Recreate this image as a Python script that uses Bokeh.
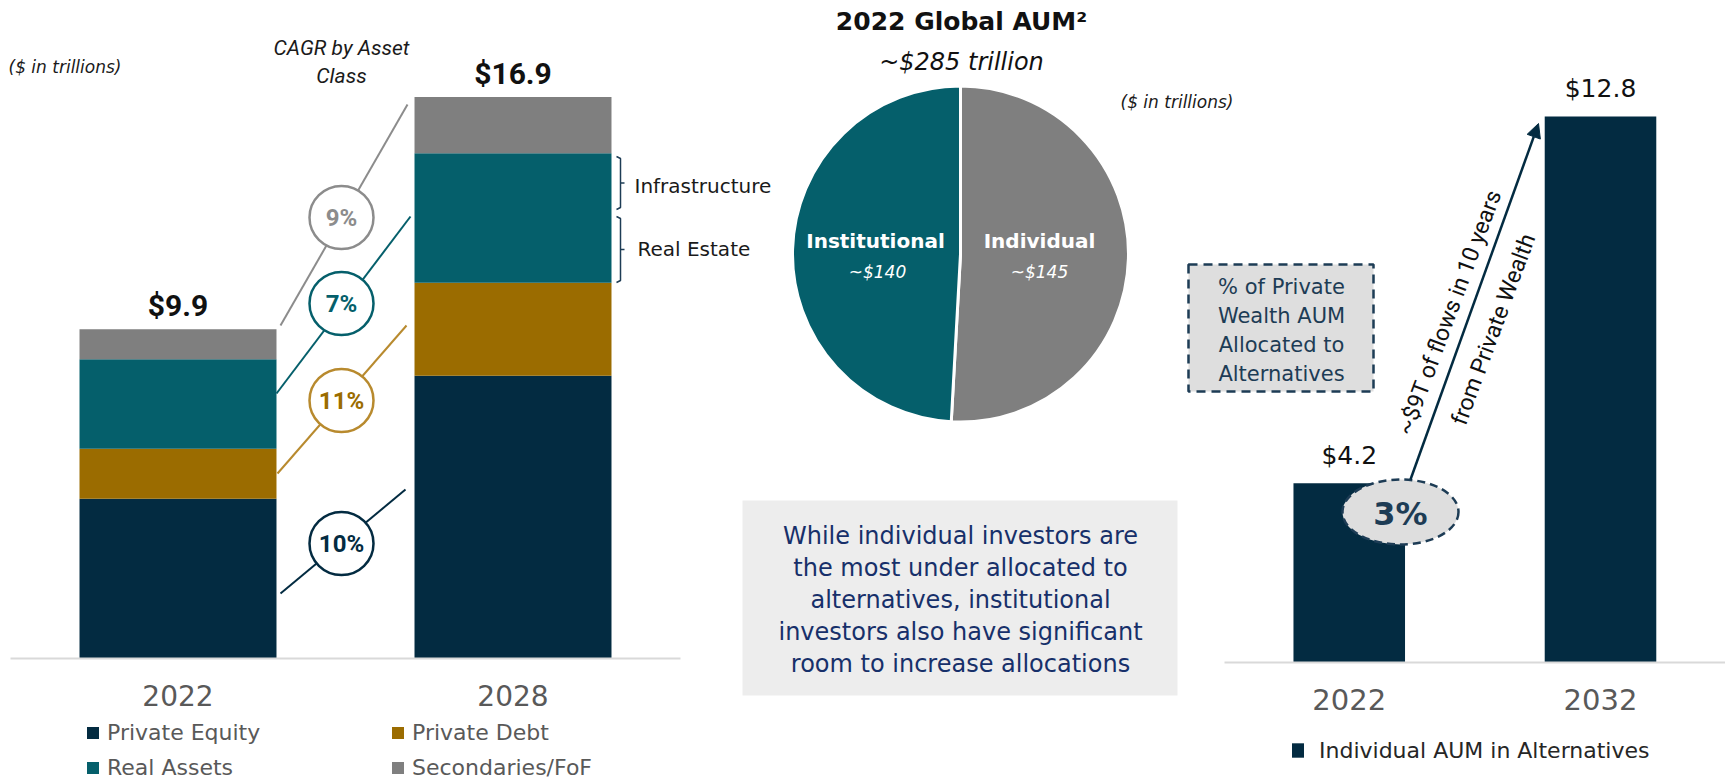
import math
from bokeh.plotting import figure
from bokeh.models import (Range1d, LinearAxis, FixedTicker, Legend, LegendItem,
                          ColumnDataSource, Arrow, NormalHead)
from bokeh.core.properties import value
from bokeh.embed import file_html
from bokeh.resources import INLINE

# ---------------- data ----------------
years_left = ["2022", "2028"]
private_equity = [4.8, 8.5]
private_debt = [1.5, 2.8]
real_assets = [2.7, 3.9]
secondaries = [0.9, 1.7]
cagr_labels = ["9%", "7%", "11%", "10%"]          # Secondaries, Real Assets, Private Debt, Private Equity

pie_labels = ["Individual", "Institutional"]
pie_values = [145, 140]
pie_value_labels = ["~$145", "~$140"]

years_right = ["2022", "2032"]
individual_alts = [4.2, 12.8]
pct_allocated = "3%"

# ---------------- style ----------------
NAVY = "#032b41"
TEAL = "#055f6b"
GOLD = "#9b6c00"
GOLD_LINE = "#b88a2e"
GRAY = "#7f7f7f"
CIRC_GRAY = "#8c8c8c"
AX_GRAY = "#595959"
DARK = "#1a1a1a"
BOX_NAVY = "#1d3c55"
BLUE_TXT = "#17306a"
COND = value("Roboto")
WIDE = value("DejaVu Sans")

W, H = 1725, 779
OX, OY = 0, 0


def py(Y):
    """screenshot y -> 'py' range value (y up)"""
    return OY + H - Y


# left chart scale: x index 0 at screenshot 177.5, 335 px per unit; y=0 at 657.5, 33.2 px/unit
LX0, LXS, LY0, LYS = 177.5, 335.0, 657.5, 33.2
# right chart scale
RX0, RXS, RY0, RYS = 1348.75, 251.25, 662.0, 42.66

p = figure(width=W, height=H, output_backend="svg", toolbar_location=None,
           x_axis_type=None, y_axis_type=None,
           x_range=Range1d((OX - LX0) / LXS, (OX + W - LX0) / LXS),
           y_range=Range1d((LY0 - (OY + H)) / LYS, (LY0 - OY) / LYS),
           min_border=0, outline_line_color=None, background_fill_color="white")
p.min_border_left = p.min_border_right = p.min_border_top = p.min_border_bottom = 0
p.extra_x_ranges = {"rx": Range1d((OX - RX0) / RXS, (OX + W - RX0) / RXS),
                    "px": Range1d(OX, OX + W)}
p.extra_y_ranges = {"ry": Range1d((RY0 - (OY + H)) / RYS, (RY0 - OY) / RYS),
                    "py": Range1d(0, H)}

PX = dict(x_range_name="px", y_range_name="py")

# ---------------- left: stacked bars ----------------
xs_left = list(range(len(years_left)))
src = ColumnDataSource(dict(x=xs_left, pe=private_equity, pd=private_debt,
                            ra=real_assets, sec=secondaries))
rs = p.vbar_stack(["pe", "pd", "ra", "sec"], x="x", width=0.588,
                  color=[NAVY, GOLD, TEAL, GRAY], line_color=None, source=src)
totals = [a + b + c + d for a, b, c, d in zip(private_equity, private_debt, real_assets, secondaries)]
p.text(x=xs_left, y=totals, text=[f"${t:.1f}" for t in totals],
       text_font=COND, text_font_style="bold", text_font_size="30px",
       text_color="#111111", text_align="center", text_baseline="bottom", y_offset=-6)

axl = LinearAxis(ticker=FixedTicker(ticks=xs_left),
                 major_label_overrides={i: y for i, y in enumerate(years_left)},
                 fixed_location=0, bounds=(-0.5, 1.5))
axl.axis_line_color = "#d9d9d9"
axl.axis_line_width = 2
axl.major_tick_line_color = None
axl.minor_tick_line_color = None
axl.major_tick_out = 0
axl.major_tick_in = 0
axl.major_label_standoff = 27
axl.major_label_text_font = "DejaVu Sans"
axl.major_label_text_font_size = "28px"
axl.major_label_text_color = AX_GRAY
p.add_layout(axl, "below")

leg_l1 = Legend(items=[LegendItem(label="Private Equity", renderers=[rs[0]]),
                       LegendItem(label="Real Assets", renderers=[rs[2]])],
                location=(85 - OX, -1.5))
leg_l2 = Legend(items=[LegendItem(label="Private Debt", renderers=[rs[1]]),
                       LegendItem(label="Secondaries/FoF", renderers=[rs[3]])],
                location=(390 - OX, -1.5))
for lg in (leg_l1, leg_l2):
    lg.border_line_color = None
    lg.background_fill_alpha = 0
    lg.padding = 0
    lg.margin = 0
    lg.spacing = 9
    lg.glyph_width = 15
    lg.glyph_height = 15
    lg.label_standoff = 7
    lg.label_height = 26
    lg.label_text_font = "DejaVu Sans"
    lg.label_text_font_size = "22px"
    lg.label_text_color = AX_GRAY
    p.add_layout(lg)

# small annotation texts (left)
p.text(x=[8], y=[py(66)], text=["($ in trillions)"], text_font=WIDE,
       text_font_style="italic", text_font_size="17px", text_color=DARK,
       text_align="left", text_baseline="middle", **PX)
p.text(x=[341, 341], y=[py(47), py(75)], text=["CAGR by Asset", "Class"], text_font=COND,
       text_font_style="italic", text_font_size="21px", text_color=DARK,
       text_align="center", text_baseline="middle", **PX)

# CAGR connectors + circles
line_cols = [CIRC_GRAY, TEAL, GOLD_LINE, NAVY]
txt_cols = [CIRC_GRAY, TEAL, GOLD, NAVY]
p.segment(x0=[280, 276, 277, 280], y0=[py(325), py(393), py(473), py(593)],
          x1=[407, 410, 406, 405], y1=[py(104), py(216), py(325), py(489)],
          line_color=line_cols, line_width=2, **PX)
cy = [217, 303, 400, 543]
p.ellipse(x=[341] * 4, y=[py(v) for v in cy], width=64, height=63,
          fill_color="white", line_color=line_cols, line_width=2.5, **PX)
p.text(x=[341] * 4, y=[py(v) for v in cy], text=cagr_labels, text_font=COND,
       text_font_style="bold", text_font_size="24px", text_color=txt_cols,
       text_align="center", text_baseline="middle", **PX)

# brackets
for (t, b) in [(156, 209), (216, 282)]:
    m = (t + b) / 2
    p.multi_line(xs=[[616, 620, 620, 616], [620, 624]],
                 ys=[[py(t), py(t + 2), py(b - 2), py(b)], [py(m), py(m)]],
                 line_color=BOX_NAVY, line_width=1.5, **PX)
p.text(x=[634, 637], y=[py(185), py(248)], text=["Infrastructure", "Real Estate"],
       text_font=WIDE, text_font_size="20px", text_color=DARK,
       text_align="left", text_baseline="middle", **PX)

# ---------------- middle: pie ----------------
tot = sum(pie_values)
starts, ends = [], []
a = math.pi / 2
for v in pie_values:
    starts.append(a)
    a = a - 2 * math.pi * v / tot
    ends.append(a)
p.wedge(x=960, y=py(253.5), radius=168, start_angle=starts, end_angle=ends,
        direction="clock", fill_color=[GRAY, TEAL], line_color="white", line_width=3, **PX)
p.text(x=[961], y=[py(21)], text=["2022 Global AUM²"], text_font=WIDE,
       text_font_style="bold", text_font_size="25px", text_color="#111111",
       text_align="center", text_baseline="middle", **PX)
p.text(x=[961], y=[py(61)], text=["~$285 trillion"], text_font=WIDE,
       text_font_style="italic", text_font_size="24px", text_color="#111111",
       text_align="center", text_baseline="middle", **PX)
p.text(x=[1120], y=[py(101)], text=["($ in trillions)"], text_font=WIDE,
       text_font_style="italic", text_font_size="17px", text_color=DARK,
       text_align="left", text_baseline="middle", **PX)
p.text(x=[1039, 875], y=[py(240), py(240)], text=pie_labels, text_font=WIDE,
       text_font_style="bold", text_font_size="20px", text_color="white",
       text_align="center", text_baseline="middle", **PX)
p.text(x=[1039, 877], y=[py(271), py(271)], text=pie_value_labels, text_font=WIDE,
       text_font_style="italic", text_font_size="17px", text_color="white",
       text_align="center", text_baseline="middle", **PX)

# text box
p.quad(left=742, right=1177, top=py(500), bottom=py(695), fill_color="#ededed",
       line_color=None, **PX)
box_lines = ["While individual investors are", "the most under allocated to",
             "alternatives, institutional", "investors also have significant",
             "room to increase allocations"]
p.text(x=[960] * 5, y=[py(535 + 32 * i) for i in range(5)], text=box_lines,
       text_font=WIDE, text_font_size="24px", text_color=BLUE_TXT,
       text_align="center", text_baseline="middle", **PX)

# ---------------- right: bars ----------------
xs_right = list(range(len(years_right)))
rr = p.vbar(x=xs_right, top=individual_alts, width=0.444, color=NAVY, line_color=None,
            x_range_name="rx", y_range_name="ry")
p.text(x=xs_right, y=individual_alts, text=[f"${v:.1f}" for v in individual_alts],
       text_font=WIDE, text_font_size="25px", text_color="#111111",
       text_align="center", text_baseline="bottom", y_offset=-13,
       x_range_name="rx", y_range_name="ry")

axr = LinearAxis(ticker=FixedTicker(ticks=xs_right),
                 major_label_overrides={i: y for i, y in enumerate(years_right)},
                 fixed_location=0, bounds=((1224 - RX0) / RXS, 1.6),
                 x_range_name="rx", y_range_name="ry")
axr.axis_line_color = "#d9d9d9"
axr.axis_line_width = 2
axr.major_tick_line_color = None
axr.minor_tick_line_color = None
axr.major_tick_out = 0
axr.major_tick_in = 0
axr.major_label_standoff = 26
axr.major_label_text_font = "DejaVu Sans"
axr.major_label_text_font_size = "29px"
axr.major_label_text_color = AX_GRAY
p.add_layout(axr, "below")

leg_r = Legend(items=[LegendItem(label="Individual AUM in Alternatives", renderers=[rr])],
               location=(1290 - OX, 16))
leg_r.border_line_color = None
leg_r.background_fill_alpha = 0
leg_r.padding = 0
leg_r.margin = 0
leg_r.glyph_width = 15
leg_r.glyph_height = 18
leg_r.label_standoff = 14
leg_r.label_height = 26
leg_r.label_text_font = "DejaVu Sans"
leg_r.label_text_font_size = "22px"
leg_r.label_text_color = "#262626"
p.add_layout(leg_r)

# dashed info box
p.quad(left=1188, right=1373, top=py(264), bottom=py(391), fill_color="#dedede",
       line_color=BOX_NAVY, line_width=2.5, line_dash="9 6", **PX)
p.text(x=[1281] * 4, y=[py(v) for v in (286, 315, 344, 373)],
       text=["% of Private", "Wealth AUM", "Allocated to", "Alternatives"],
       text_font=WIDE, text_font_size="21px", text_color=BOX_NAVY,
       text_align="center", text_baseline="middle", **PX)

# arrow + rotated texts
p.add_layout(Arrow(x_start=1410, y_start=py(479), x_end=1538, y_end=py(123),
                   line_color=NAVY, line_width=2.5,
                   end=NormalHead(size=14, fill_color=NAVY, line_color=NAVY), **PX))
ang = math.atan2(245, 91)
p.text(x=[1449, 1493], y=[py(312), py(329)],
       text=["~$9T of flows in 10 years", "from Private Wealth"], angle=ang,
       text_font=COND, text_font_size="23px", text_color="#111111",
       text_align="center", text_baseline="middle", **PX)

# 3% ellipse
p.ellipse(x=[1400], y=[py(511.5)], width=116, height=65, fill_color="#dedede",
          line_color=BOX_NAVY, line_width=2.5, line_dash="8 5", **PX)
p.text(x=[1400], y=[py(513)], text=[pct_allocated], text_font=WIDE,
       text_font_style="bold", text_font_size="32px", text_color=BOX_NAVY,
       text_align="center", text_baseline="middle", **PX)

open("out.html", "w").write(file_html(p, INLINE))
